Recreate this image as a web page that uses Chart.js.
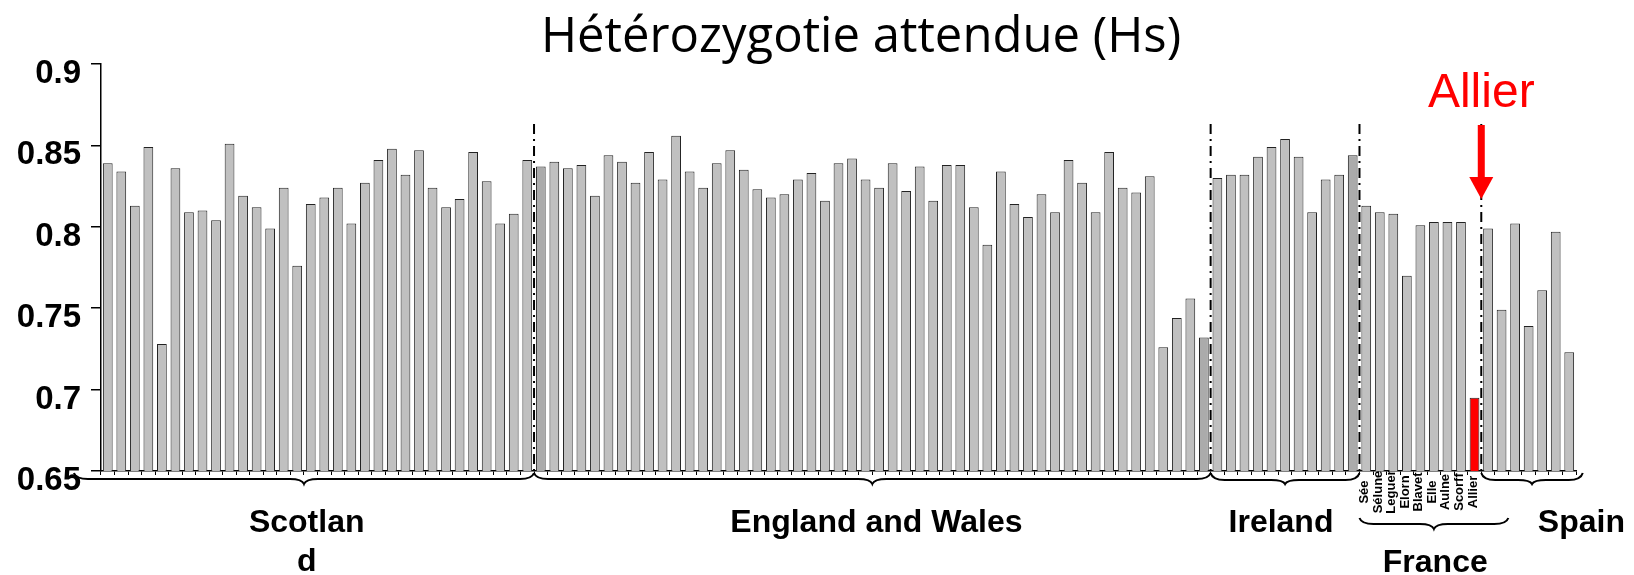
<!DOCTYPE html>
<html>
<head>
<meta charset="utf-8">
<title>Hétérozygotie attendue (Hs)</title>
<script src="https://cdn.jsdelivr.net/npm/chart.js@4.4.0/dist/chart.umd.min.js"></script>
<style>
  html, body { margin: 0; padding: 0; background: #fff; }
  #wrap { width: 1634px; height: 575px; }
</style>
</head>
<body>
<div id="wrap"><canvas id="hsChart" width="1634" height="575"></canvas></div>
<script>
// expected heterozygosity per population, grouped by region
const scotland = [0.839, 0.834, 0.813, 0.849, 0.728, 0.836, 0.809, 0.810, 0.804, 0.851,
  0.819, 0.812, 0.799, 0.824, 0.776, 0.814, 0.818, 0.824, 0.802, 0.827,
  0.841, 0.848, 0.832, 0.847, 0.824, 0.812, 0.817, 0.846, 0.828, 0.802,
  0.808, 0.841];
const england = [0.837, 0.840, 0.836, 0.838, 0.819, 0.844, 0.840, 0.827, 0.846, 0.829,
  0.856, 0.834, 0.824, 0.839, 0.847, 0.835, 0.823, 0.818, 0.820, 0.829,
  0.833, 0.816, 0.839, 0.842, 0.829, 0.824, 0.839, 0.822, 0.837, 0.816,
  0.838, 0.838, 0.812, 0.789, 0.834, 0.814, 0.806, 0.820, 0.809, 0.841,
  0.827, 0.809, 0.846, 0.824, 0.821, 0.831, 0.726, 0.744, 0.756, 0.732];
const ireland = [0.830, 0.832, 0.832, 0.843, 0.849, 0.854, 0.843, 0.809, 0.829, 0.832, 0.844];
const france = [0.813, 0.809, 0.808, 0.770, 0.801, 0.803, 0.803, 0.803, 0.695];
const spain = [0.799, 0.749, 0.802, 0.739, 0.761, 0.797, 0.723];

const franceRivers = ["Sée", "Sélune", "Leguer", "Elorn", "Blavet", "Elle", "Aulne", "Scorff", "Allier"];
const regionNames = ["Scotland", "England and Wales", "Ireland", "France", "Spain"];
const regionLabels = [["Scotlan", "d"], ["England and Wales"], ["Ireland"], ["France"], ["Spain"]];
const yTicks = [0.65, 0.7, 0.75, 0.8, 0.85, 0.9];
const highlight = "Allier";

const groups = [scotland, england, ireland, france, spain];
const values = [].concat(...groups);
const labels = [];
groups.forEach((g, gi) => {
  g.forEach((v, i) => {
    labels.push(gi === 3 ? franceRivers[i] : regionNames[gi] + " " + (i + 1));
  });
});

// first index of each region, used for the separators
const starts = [];
let acc = 0;
groups.forEach((g) => { starts.push(acc); acc += g.length; });
const highlightIndex = labels.indexOf(highlight);
const shaded = [starts[1], starts[2] - 1, starts[3] - 1];

const barColors = values.map((v, i) => {
  if (i === highlightIndex) return "#ff0000";
  if (shaded.includes(i)) return "#ababab";
  return "#c0c0c0";
});

// braces under the axis, in category units (0 = left edge of plot)
const braces = [
  { from: -2, to: 32, top: 473, main: 479, tip: 484 },
  { from: 32, to: 82, top: 473, main: 479, tip: 484 },
  { from: 82, to: 93, top: 473, main: 480, tip: 484 },
  { from: 93, to: 104, top: 518, main: 524, tip: 529 },
  { from: 102, to: 109.5, top: 473, main: 480, tip: 484 },
];
const regionLabelPos = [
  { at: 15.2, y: 532 },
  { at: 57.3, y: 532 },
  { at: 87.2, y: 532 },
  { at: 98.6, y: 572 },
  { at: 109.4, y: 532 },
];

const AXIS_FONT = '"Liberation Sans", Arial, sans-serif';

function unitX(chart, u) {
  const a = chart.chartArea;
  return a.left + (u * (a.right - a.left)) / values.length;
}

function drawBrace(ctx, x0, x1, top, main, tip) {
  const xc = (x0 + x1) / 2;
  const r = Math.min(14, (x1 - x0) / 6);
  ctx.beginPath();
  ctx.moveTo(x0, top);
  ctx.quadraticCurveTo(x0 + 2, main, x0 + r, main);
  ctx.lineTo(xc - r, main);
  ctx.quadraticCurveTo(xc - 2, main, xc, tip);
  ctx.quadraticCurveTo(xc + 2, main, xc + r, main);
  ctx.lineTo(x1 - r, main);
  ctx.quadraticCurveTo(x1 - 2, main, x1, top);
  ctx.stroke();
}

const decorations = {
  id: "decorations",
  afterDatasetsDraw(chart) {
    const ctx = chart.ctx;
    const area = chart.chartArea;
    ctx.save();

    // dash-dot separators between regions
    ctx.strokeStyle = "#000";
    ctx.lineWidth = 2;
    ctx.setLineDash([10, 5, 2, 5]);
    starts.slice(1).forEach((s) => {
      const x = unitX(chart, s);
      ctx.beginPath();
      ctx.moveTo(x, 124);
      ctx.lineTo(x, area.bottom);
      ctx.stroke();
    });
    ctx.setLineDash([]);

    // arrow pointing at the Allier separator
    const ax = unitX(chart, starts[4]);
    ctx.fillStyle = "#ff0000";
    ctx.fillRect(ax - 3.5, 125, 7, 54);
    ctx.beginPath();
    ctx.moveTo(ax - 12, 177);
    ctx.lineTo(ax + 12, 177);
    ctx.lineTo(ax, 199);
    ctx.closePath();
    ctx.fill();
    ctx.font = "48px " + AXIS_FONT;
    ctx.textAlign = "center";
    ctx.textBaseline = "alphabetic";
    ctx.fillText(highlight, ax, 107);

    // title
    ctx.fillStyle = "#000";
    ctx.font = '49px "Comic Sans MS", "Open Sans", sans-serif';
    ctx.fillText("Hétérozygotie attendue (Hs)", 861, 52);

    // braces
    ctx.strokeStyle = "#000";
    ctx.lineWidth = 2;
    braces.forEach((b) => {
      drawBrace(ctx, unitX(chart, b.from), unitX(chart, b.to), b.top, b.main, b.tip);
    });

    // region names
    ctx.font = "bold 32px " + AXIS_FONT;
    regionLabels.forEach((lines, i) => {
      const x = unitX(chart, regionLabelPos[i].at);
      lines.forEach((t, li) => {
        ctx.fillText(t, x, regionLabelPos[i].y + li * 39);
      });
    });

    // river names under the French bars
    const xScale = chart.scales.x;
    ctx.font = "bold 13px " + AXIS_FONT;
    ctx.textBaseline = "alphabetic";
    franceRivers.forEach((name, i) => {
      const x = xScale.getPixelForValue(starts[3] + i);
      ctx.save();
      ctx.translate(x + 2, 492);
      ctx.rotate(-Math.PI / 2);
      ctx.fillText(name, 0, 0);
      ctx.restore();
    });

    ctx.restore();
  },
};

const ctx = document.getElementById("hsChart").getContext("2d");
const hsChart = new Chart(ctx, {
  type: "bar",
  data: {
    labels: labels,
    datasets: [
      {
        label: "Hs",
        data: values,
        backgroundColor: barColors,
        borderColor: "#222",
        borderWidth: 1,
        barPercentage: 0.72,
        categoryPercentage: 1.0,
      },
    ],
  },
  options: {
    responsive: false,
    animation: false,
    layout: {
      padding: { top: 64, right: 58, left: 0, bottom: 0 },
    },
    plugins: {
      legend: { display: false },
      tooltip: { enabled: false },
      title: { display: false },
    },
    scales: {
      x: {
        offset: true,
        ticks: { display: false },
        grid: {
          offset: true,
          drawOnChartArea: false,
          tickLength: 4,
          color: "#000",
          lineWidth: 1,
        },
        border: { color: "#000", width: 1.5 },
        afterFit: (scale) => {
          scale.height = 104;
        },
      },
      y: {
        min: 0.65,
        max: 0.9,
        afterBuildTicks: (scale) => {
          scale.ticks = yTicks.map((v) => ({ value: v }));
        },
        ticks: {
          padding: 10,
          labelOffset: 10,
          color: "#000",
          font: { family: AXIS_FONT, weight: "bold", size: 33 },
          callback: (v) => String(+Number(v).toFixed(2)),
        },
        grid: {
          drawOnChartArea: false,
          tickLength: 10,
          color: "#000",
          lineWidth: 1.5,
        },
        border: { color: "#000", width: 1.5 },
        afterFit: (scale) => {
          scale.width = 101;
        },
      },
    },
  },
  plugins: [decorations],
});
</script>
</body>
</html>
